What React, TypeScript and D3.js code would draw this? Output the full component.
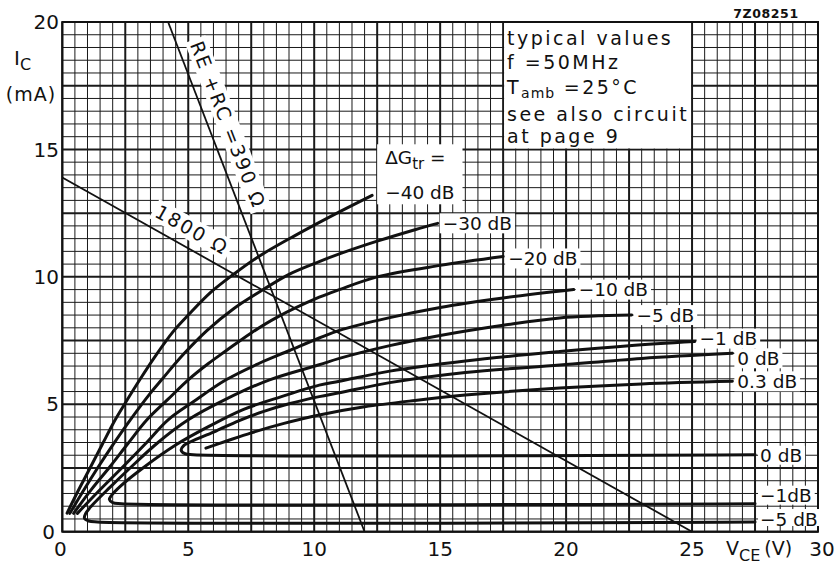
import React from 'react';
import * as d3 from 'd3';

const FONT = '"DejaVu Sans", sans-serif';

// ---------------- data ----------------
const xTickValues = [0, 5, 10, 15, 20, 25, 30];
const xTickLabels = ['0', '5', '10', '15', '20', '25', '30'];
const yTickValues = [0, 5, 10, 15, 20];
const yTickLabels = ['0', '5', '10', '15', '20'];

// constant gain-reduction curves (V_CE [V], I_C [mA])
const curveM40: [number, number][] = [
  [0.19, 0.73], [0.6, 1.55], [1.05, 2.4], [1.6, 3.45], [2.1, 4.39], [2.5, 5.05], [3.1, 6.0],
  [3.7, 6.9], [4.4, 7.85], [5.0, 8.5], [5.9, 9.4], [6.8, 10.1], [7.8, 10.8], [9.2, 11.6],
  [11.0, 12.55], [12.3, 13.2],
];
const curveM30: [number, number][] = [
  [0.3, 0.72], [0.8, 1.55], [1.4, 2.5], [2.0, 3.4], [2.7, 4.39], [3.49, 5.43], [3.94, 5.96],
  [4.8, 6.95], [5.75, 7.9], [6.8, 8.75], [7.96, 9.49], [9.0, 10.1], [10.2, 10.6], [11.0, 10.9],
  [12.5, 11.4], [14.0, 11.85], [14.9, 12.1],
];
const curveM20: [number, number][] = [
  [0.45, 0.72], [1.15, 1.65], [1.89, 2.55], [2.6, 3.45], [3.36, 4.39], [4.2, 5.2], [5.0, 5.96],
  [5.8, 6.6], [6.5, 7.1], [7.5, 7.8], [8.5, 8.4], [10.2, 9.2], [11.0, 9.5], [12.5, 10.0],
  [15.0, 10.45], [17.5, 10.8],
];
const curveM10: [number, number][] = [
  [0.6, 0.72], [1.4, 1.55], [2.36, 2.5], [3.3, 3.45], [4.2, 4.39], [5.2, 5.1], [6.5, 5.96],
  [7.8, 6.6], [9.0, 7.1], [10.2, 7.6], [11.0, 7.9], [13.0, 8.4], [15.0, 8.8], [17.5, 9.17],
  [20.3, 9.5],
];
const curveM5: [number, number][] = [
  [27.5, 0.38], [1.4, 0.38], [1.05, 0.42], [0.88, 0.53], [0.92, 0.7], [1.15, 1.0], [1.9, 1.75],
  [2.69, 2.5], [3.8, 3.5], [5.0, 4.39], [6.5, 5.2], [8.2, 5.95], [10.2, 6.55], [11.0, 6.8],
  [13.0, 7.3], [15.0, 7.7], [17.5, 8.1], [19.75, 8.39], [22.6, 8.5],
];
const curveM1: [number, number][] = [
  [27.5, 1.1], [2.35, 1.1], [2.0, 1.14], [1.87, 1.26], [1.95, 1.42], [2.3, 1.78], [3.2, 2.5],
  [4.5, 3.4], [5.8, 4.12], [7.2, 4.8], [8.7, 5.3], [10.2, 5.75], [11.0, 5.9], [13.0, 6.3],
  [16.0, 6.7], [19.75, 7.07], [22.5, 7.3], [25.1, 7.46],
];
const curve0: [number, number][] = [
  [27.5, 3.02], [5.2, 3.02], [4.87, 3.06], [4.72, 3.2], [4.82, 3.38], [5.3, 3.62], [6.1, 3.95],
  [7.0, 4.35], [8.0, 4.72], [9.0, 5.02], [10.2, 5.3], [11.0, 5.45], [13.0, 5.85], [16.0, 6.25],
  [19.75, 6.54], [23.0, 6.8], [26.6, 7.0],
];
const curveP03: [number, number][] = [
  [5.7, 3.28], [6.5, 3.55], [7.5, 3.88], [8.8, 4.25], [10.2, 4.58], [12.0, 4.9], [14.0, 5.15],
  [16.0, 5.36], [19.75, 5.64], [23.0, 5.8], [26.6, 5.9],
];

const curveLabels = ['−40 dB', '−30 dB', '−20 dB', '−10 dB', '−5 dB', '−1 dB', '0 dB', '0.3 dB'];
const lowerBranchLabels = ['−5 dB', '−1dB', '0 dB'];

const loadLine1800: [number, number][] = [[0, 13.9], [25, 0]];
const loadLine390: [number, number][] = [[4.2, 20], [12, 0]];
const loadLineLabels = ['1800 Ω', 'RE +RC =390 Ω'];

const noteLines = ['typical values', 'f =50MHz', 'T', 'see also circuit', 'at page 9'];

// ---------------- layout ----------------
const W = 836;
const H = 565;
const x = d3.scaleLinear().domain([0, 30]).range([62.3, 818]);
const y = d3.scaleLinear().domain([0, 20]).range([531.7, 22]);

let _ctx: CanvasRenderingContext2D | null = null;
function textWidth(s: string, size: number, weight = 'normal') {
  if (!_ctx) _ctx = document.createElement('canvas').getContext('2d');
  if (!_ctx) return s.length * size * 0.6;
  _ctx.font = `${weight} ${size}px "DejaVu Sans"`;
  return _ctx.measureText(s).width;
}

const line = d3
  .line<[number, number]>()
  .x((d) => x(d[0]))
  .y((d) => y(d[1]))
  .curve(d3.curveCatmullRom.alpha(0.5));

const straight = d3
  .line<[number, number]>()
  .x((d) => x(d[0]))
  .y((d) => y(d[1]));

function LoadLineLabel({ pts, text, t, off }: { pts: [number, number][]; text: string; t: number; off: number }) {
  const x1 = x(pts[0][0]), y1 = y(pts[0][1]), x2 = x(pts[1][0]), y2 = y(pts[1][1]);
  const dx = x2 - x1, dy = y2 - y1;
  const len = Math.hypot(dx, dy);
  const ux = dx / len, uy = dy / len;
  const cx = x1 + dx * t + uy * off;
  const cy = y1 + dy * t - ux * off;
  const ang = (Math.atan2(dy, dx) * 180) / Math.PI;
  const ls = 2;
  const w = textWidth(text, 19) + ls * text.length;
  return (
    <g transform={`translate(${cx},${cy}) rotate(${ang})`}>
      <rect x={-w / 2 - 3} y={-11} width={w + 6} height={22} fill="#fff" />
      <text x={0} y={0} dy="0.36em" textAnchor="middle" fontSize={19} letterSpacing={ls} fontFamily={FONT} fill="#111">
        {text}
      </text>
    </g>
  );
}

export default function App() {
  const series = [curveM40, curveM30, curveM20, curveM10, curveM5, curveM1, curve0, curveP03];
  const loops = [curveM5, curveM1, curve0];
  const lowerDy = [-3, -8, 1];
  const upperDy = [0, 0, 2, 0, 0, -3, 5, 0];

  const gridV = d3.range(0, 30.0001, 0.5);
  const gridH = d3.range(0, 20.0001, 0.5);
  const isMajor = (v: number) => Math.abs(v / 2.5 - Math.round(v / 2.5)) < 1e-6;

  const labelSize = 18.5;

  const upperLabels = series
    .map((pts, i) => {
      const end = pts[pts.length - 1];
      return { i, tx: x(end[0]) + 5, ty: y(end[1]) + upperDy[i], text: curveLabels[i] };
    })
    .filter((d) => d.i !== 0);

  const lowerLabels = loops.map((pts, i) => {
    const st = pts[0];
    return { i, tx: x(st[0]) + 5, ty: y(st[1]) + lowerDy[i], text: lowerBranchLabels[i] };
  });

  const end40 = curveM40[curveM40.length - 1];
  const tx40 = x(end40[0]) + 13;
  const ty40 = y(end40[1]) - 3;

  return (
    <>
      <style>{`body{margin:0;background:#fff}`}</style>
      <svg width={W} height={H} style={{ display: 'block' }} fontFamily={FONT}>
        <rect x={0} y={0} width={W} height={H} fill="#fff" />
        {/* grid */}
        <g stroke="#1a1a1a">
          {gridV.map((v) => (
            <line key={'v' + v} x1={x(v)} x2={x(v)} y1={y(0)} y2={y(20)} strokeWidth={isMajor(v) ? 2 : 1} />
          ))}
          {gridH.map((v) => (
            <line key={'h' + v} x1={x(0)} x2={x(30)} y1={y(v)} y2={y(v)} strokeWidth={isMajor(v) ? 2 : 1} />
          ))}
        </g>
        <rect x={x(0)} y={y(20)} width={x(30) - x(0)} height={y(0) - y(20)} fill="none" stroke="#111" strokeWidth={2} />

        {/* note box */}
        <rect x={x(17.5) + 1} y={y(20) + 1} width={x(25) - x(17.5) - 2} height={y(15) - y(20) - 2} fill="#fff" />
        <g fontSize={19} letterSpacing={2.5} fill="#111">
          <text x={507} y={45}>{noteLines[0]}</text>
          <text x={507} y={69}>{noteLines[1]}</text>
          <text x={507} y={94}>
            {noteLines[2]}
            <tspan fontSize={14} dy={4} letterSpacing={1}>amb</tspan>
            <tspan dy={-4}> =25°C</tspan>
          </text>
          <text x={507} y={121}>{noteLines[3]}</text>
          <text x={507} y={143}>{noteLines[4]}</text>
        </g>

        {/* white label backgrounds */}
        {upperLabels.map((d) => (
          <rect key={'ur' + d.i} x={d.tx - 3} y={d.ty - 10} width={textWidth(d.text, labelSize) + 6} height={20} fill="#fff" />
        ))}
        {lowerLabels.map((d) => (
          <rect key={'lr' + d.i} x={d.tx - 2} y={d.ty - 10} width={textWidth(d.text, labelSize) + 5} height={d.i === 0 ? 17 : 19} fill="#fff" />
        ))}
        <rect x={tx40 - 8} y={ty40 - 48} width={textWidth(curveLabels[0], labelSize) + 16} height={60} fill="#fff" />

        {/* load lines */}
        <path d={straight(loadLine1800) || ''} fill="none" stroke="#111" strokeWidth={1.8} />
        <path d={straight(loadLine390) || ''} fill="none" stroke="#111" strokeWidth={1.8} />
        <LoadLineLabel pts={loadLine1800} text={loadLineLabels[0]} t={0.192} off={18} />
        <LoadLineLabel pts={loadLine390} text={loadLineLabels[1]} t={0.215} off={19} />

        {/* curves */}
        {series.map((pts, i) => (
          <path key={'c' + i} d={line(pts) || ''} fill="none" stroke="#111" strokeWidth={3} strokeLinejoin="round" strokeLinecap="round" />
        ))}

        {/* curve labels */}
        {upperLabels.map((d) => (
          <text key={'ut' + d.i} x={d.tx} y={d.ty} dy="0.36em" fontSize={labelSize} fill="#111">{d.text}</text>
        ))}
        {lowerLabels.map((d) => (
          <text key={'lt' + d.i} x={d.tx} y={d.ty} dy="0.36em" fontSize={labelSize} fill="#111">{d.text}</text>
        ))}
        <text x={tx40} y={ty40 - 35} dy="0.36em" fontSize={labelSize} fill="#111">
          ΔG<tspan fontSize={15} dy={5}>tr</tspan><tspan dy={-5}> =</tspan>
        </text>
        <text x={tx40} y={ty40} dy="0.36em" fontSize={labelSize} fill="#111">{curveLabels[0]}</text>

        {/* axes tick labels */}
        {xTickValues.map((v, i) => (
          <text key={'xt' + i} x={x(v) + (i === 0 ? -2 : i === 6 ? 4 : 0)} y={556} textAnchor="middle" fontSize={20} fill="#111">
            {xTickLabels[i]}
          </text>
        ))}
        {yTickValues.map((v, i) => (
          <text key={'yt' + i} x={i === 0 ? 55 : 59} y={y(v)} dy="0.36em" textAnchor="end" fontSize={20} fill="#111">
            {yTickLabels[i]}
          </text>
        ))}

        {/* axis titles */}
        <text x={14} y={65} fontSize={20} fill="#111">
          I<tspan fontSize={16} dy={5}>C</tspan>
        </text>
        <text x={31} y={101} textAnchor="middle" fontSize={19} letterSpacing={1} fill="#111">(mA)</text>
        <text x={726} y={555} fontSize={19} fill="#111">
          V<tspan fontSize={16} dy={6}>CE</tspan><tspan dy={-6} dx={4}>(V)</tspan>
        </text>

        <text x={766} y={18} textAnchor="middle" fontSize={12.5} fontWeight="bold" letterSpacing={0.6} fill="#111">7Z08251</text>
      </svg>
    </>
  );
}
